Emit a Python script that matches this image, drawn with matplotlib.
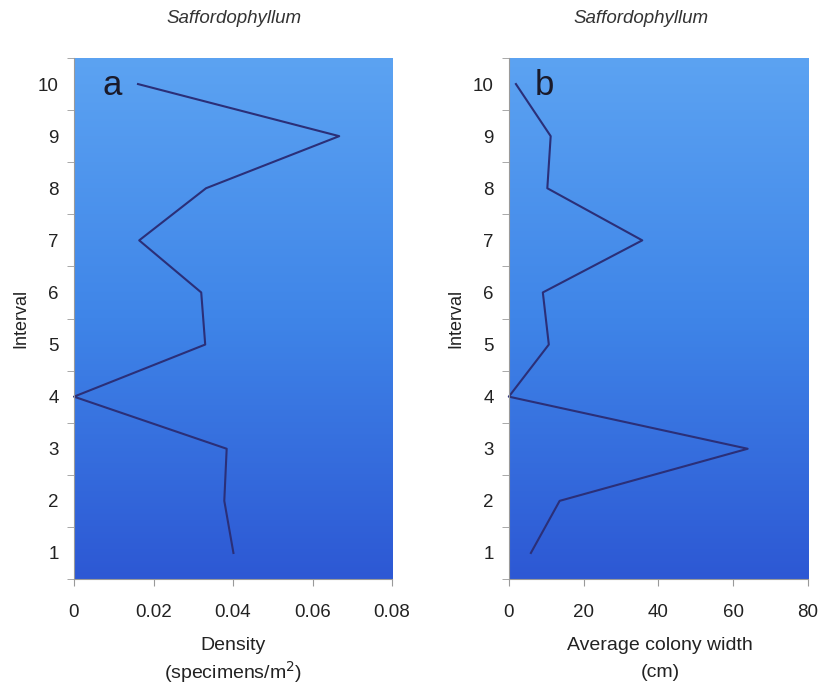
import numpy as np
import matplotlib
matplotlib.use("Agg")
from matplotlib import pyplot as plt
from matplotlib.colors import LinearSegmentedColormap
from matplotlib.ticker import MultipleLocator

plt.rcParams['font.family'] = ['Liberation Sans', 'DejaVu Sans']

# Saffordophyllum per interval
intervals = [1, 2, 3, 4, 5, 6, 7, 8, 9, 10]
density = [0.0401, 0.0378, 0.0384, 0.0, 0.033, 0.032, 0.0164, 0.0332, 0.0667, 0.0161]
colony_width = [5.9, 13.6, 63.9, 0.0, 10.7, 9.1, 35.7, 10.3, 11.2, 1.9]

taxon = "Saffordophyllum"

bg = LinearSegmentedColormap.from_list("bg", ["#2d58d4", "#3f85e8", "#5ca3f2"])
line_col = "#2b2f78"
grey = "#9a9a9a"
txt = "#222222"


def setup_panel(ax, xmax, xstep, xfmt, letter):
    grad = np.linspace(0, 1, 256).reshape(-1, 1)
    ax.imshow(grad, aspect='auto', cmap=bg, origin='lower',
              extent=[0, 1, 0, 1], transform=ax.transAxes, zorder=0)
    ax.set_xlim(0, xmax)
    ax.set_ylim(0.5, 10.5)
    ax.xaxis.set_major_locator(MultipleLocator(xstep))
    ax.xaxis.set_major_formatter(xfmt)
    ax.set_yticks(intervals)
    ax.yaxis.set_minor_locator(MultipleLocator(1.0, offset=0.5))
    ax.tick_params(axis='y', which='major', length=0, pad=11, labelsize=13.5,
                   labelcolor=txt)
    ax.tick_params(axis='y', which='minor', length=5, color=grey, direction='out')
    ax.tick_params(axis='x', length=5, color=grey, direction='out', pad=13,
                   labelsize=13.5, labelcolor=txt)
    for s in ['top', 'right']:
        ax.spines[s].set_visible(False)
    for s in ['left', 'bottom']:
        ax.spines[s].set_color(grey)
        ax.spines[s].set_linewidth(0.8)
    ax.set_ylabel("Interval", fontsize=13, labelpad=6, color=txt)
    ax.text(0.12, 0.947, letter, transform=ax.transAxes, fontsize=25,
            color="#1a1a2a", ha='center', va='center', zorder=3)


fig = plt.figure(figsize=(8.22, 6.84), dpi=100)
ax1 = fig.add_axes([0.090, 0.1535, 0.387, 0.7617])
ax2 = fig.add_axes([0.619, 0.1535, 0.3638, 0.7617])

setup_panel(ax1, 0.08, 0.02, lambda v, p: "0" if v == 0 else f"{v:.2f}", "a")
setup_panel(ax2, 80, 20, lambda v, p: f"{v:.0f}", "b")

ax1.plot(density, intervals, color=line_col, lw=1.5, zorder=2, clip_on=False)
ax2.plot(colony_width, intervals, color=line_col, lw=1.5, zorder=2, clip_on=False)

fig.text(0.285, 0.973, taxon, style='italic', fontsize=13.5, ha='center', va='center', color="#333333")
fig.text(0.780, 0.973, taxon, style='italic', fontsize=13.5, ha='center', va='center', color="#333333")

fig.text(0.2835, 0.0556, "Density", fontsize=14, ha='center', va='center', color=txt)
fig.text(0.2835, 0.0175, "(specimens/m$^2$)", fontsize=14, ha='center', va='center', color=txt)
fig.text(0.803, 0.0570, "Average colony width", fontsize=14, ha='center', va='center', color=txt)
fig.text(0.803, 0.0175, "(cm)", fontsize=14, ha='center', va='center', color=txt)

fig.savefig("out.png", dpi=100)
